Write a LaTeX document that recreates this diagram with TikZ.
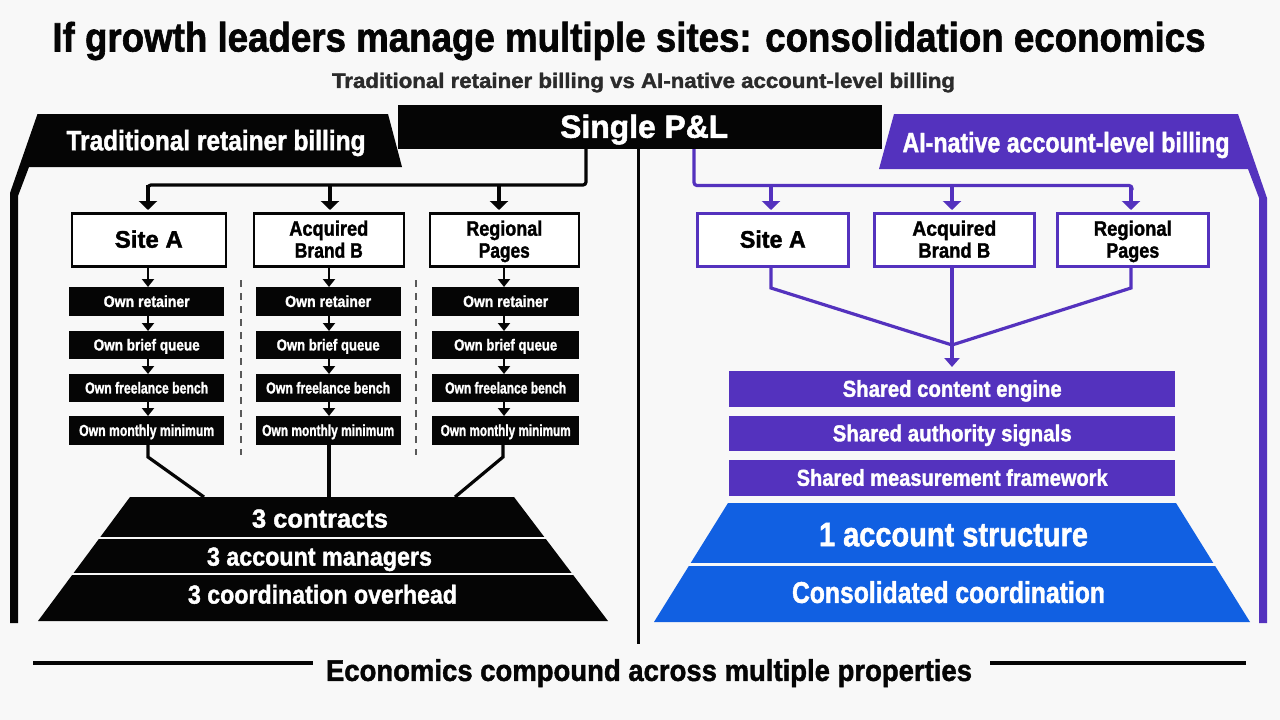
\documentclass[tikz,border=0pt]{standalone}
\usepackage{graphicx}
\usepackage{fontspec}
\setmainfont[BoldFeatures={FakeBold=1.6}]{Liberation Sans}
\usetikzlibrary{arrows.meta}
\definecolor{paper}{HTML}{F8F8F8}
\definecolor{ink}{HTML}{050505}
\definecolor{violet}{HTML}{5432BE}
\definecolor{azure}{HTML}{1160E2}
\newcommand\tw[3]{\raisebox{-.33\dimexpr#2pt\relax}[0pt][0pt]{\resizebox{#1pt}{\height}{\fontsize{#2}{#2}\selectfont\bfseries #3}}}
\tikzset{
  txt/.style={inner sep=0pt,align=center,font=\fontsize{22}{22}\selectfont},
  wtxt/.style={txt,text=white},
  boxk/.style={txt,draw=ink,line width=2.6pt,fill=white,anchor=north west},
  boxv/.style={txt,draw=violet,line width=2.6pt,fill=white,anchor=north west},
  barfill/.style={wtxt,fill=#1,anchor=north west},
  link/.style={line width=3.2pt,draw=#1},
  arr/.style={link=#1,-{Triangle[length=9pt,width=18pt]}},
  arrs/.style={line width=2.6pt,draw=ink,-{Triangle[length=8pt,width=12pt]}},
  divider/.style={draw=gray!70!black,line width=1.2pt,dash pattern=on 7pt off 6pt},
  rule/.style={line width=3.6pt,draw=ink}
}
\newcommand\cbox[7]{\node[#1,minimum width=#4pt,minimum height=#5pt] (#2) at (#3,#6) {#7};}
\begin{document}
\begin{tikzpicture}[x=1pt,y=-1pt]
\useasboundingbox (0,0) rectangle (1280,720);
\fill[paper] (0,0) rectangle (1280,720);
% title
\node[txt,text=ink] (title) at (629,38) {\tw{1153}{41}{If growth leaders manage multiple sites: consolidation economics}};
\node[txt,text=ink!85!white] (subtitle) at (643.5,81) {\tw{623}{21}{Traditional retainer billing vs AI-native account-level billing}};
% headers
\fill[ink] (37.5,114) -- (388,114) -- (402,167) -- (29,167) -- (18,196) -- (18,623) -- (10,623) -- (10,193) -- cycle;
\fill[violet] (894,114) -- (1238,114) -- (1267,198) -- (1267,623) -- (1259,623) -- (1259,198) -- (1248,169) -- (879,169) -- cycle;
\node[wtxt] (hl) at (216,141) {\tw{299}{28}{Traditional retainer billing}};
\node[wtxt] (hr) at (1066,143) {\tw{327}{28}{AI-native account-level billing}};
% centre
\draw[line width=3pt,draw=ink] (638,149) -- (638,644);
\node[barfill=ink,minimum width=484pt,minimum height=44pt] (pl) at (398,105) {\hspace*{8pt}\tw{168}{32}{Single P\&L}};
% left boxes
\cbox{boxk}{la}{70.5}{154}{53}{212}{\tw{68}{24}{Site A}}
\cbox{boxk}{lb}{252.5}{150}{53}{212}{\tw{79}{21}{Acquired}\\\tw{68}{21}{Brand B}}
\cbox{boxk}{lc}{428.5}{149}{53}{212}{\tw{76}{21}{Regional}\\\tw{51}{21}{Pages}}
% left bars
\cbox{barfill=ink}{la1}{69}{155}{29}{287}{\tw{86}{16}{Own retainer}}
\cbox{barfill=ink}{la2}{69}{155}{28}{331}{\tw{106}{16}{Own brief queue}}
\cbox{barfill=ink}{la3}{69}{155}{28}{374}{\tw{123}{16}{Own freelance bench}}
\cbox{barfill=ink}{la4}{69}{155}{29}{416}{\tw{135}{16}{Own monthly minimum}}
\cbox{barfill=ink}{lb1}{255.5}{145}{29}{287}{\tw{86}{16}{Own retainer}}
\cbox{barfill=ink}{lb2}{255.5}{145}{28}{331}{\tw{103}{16}{Own brief queue}}
\cbox{barfill=ink}{lb3}{255.5}{145}{28}{374}{\tw{124}{16}{Own freelance bench}}
\cbox{barfill=ink}{lb4}{255.5}{145}{29}{416}{\tw{132}{16}{Own monthly minimum}}
\cbox{barfill=ink}{lc1}{432}{147}{29}{287}{\tw{85}{16}{Own retainer}}
\cbox{barfill=ink}{lc2}{432}{147}{28}{331}{\tw{103}{16}{Own brief queue}}
\cbox{barfill=ink}{lc3}{432}{147}{28}{374}{\tw{121}{16}{Own freelance bench}}
\cbox{barfill=ink}{lc4}{432}{147}{29}{416}{\tw{130}{16}{Own monthly minimum}}
% left connectors
\coordinate (ltrunk) at (586,149);
\coordinate (lbus) at (586,185);
\coordinate (lbusa) at (148,185);
\coordinate (lbusb) at (330,185);
\coordinate (lbusc) at (499,185);
\draw[link=ink,rounded corners=3pt] (ltrunk) -- (lbus) -- (lbusa) -- (148,190);
\draw[arr=ink] (lbusa) -- (148,210);
\draw[arr=ink] (lbusb) -- (330,210);
\draw[arr=ink] (lbusc) -- (499,210);
\foreach \c/\x in {a/148,b/329,c/504}{
  \draw[arrs] (\x,266) -- (\x,287);
  \draw[arrs] (\x,316) -- (\x,331);
  \draw[arrs] (\x,359) -- (\x,374);
  \draw[arrs] (\x,402) -- (\x,416);
}
\draw[divider] (241,280) -- (241,455);
\draw[divider] (416,280) -- (416,455);
% left pyramid
\fill[ink] (130,497) -- (514,497) -- (608,621) -- (38,621) -- cycle;
\draw[line width=2pt,draw=paper] (90,538) -- (555,538);
\draw[line width=2pt,draw=paper] (62,574) -- (585,574);
\node[wtxt] (p1) at (320,519) {\tw{136}{26}{3 contracts}};
\node[wtxt] (p2) at (319.5,557) {\tw{225}{26}{3 account managers}};
\node[wtxt] (p3) at (322.5,595) {\tw{269}{26}{3 coordination overhead}};
\coordinate (pa) at (204,497);
\coordinate (pb) at (329,497);
\coordinate (pc) at (455,497);
\draw[link=ink] (148,445) -- (148,457) -- (pa);
\draw[link=ink] (329,445) -- (pb);
\draw[link=ink] (503,445) -- (503,457) -- (pc);
% right boxes
\cbox{boxv}{ra}{696}{151}{53}{212}{\tw{66}{24}{Site A}}
\cbox{boxv}{rb}{873}{160}{53}{212}{\tw{84}{21}{Acquired}\\\tw{72}{21}{Brand B}}
\cbox{boxv}{rc}{1056}{151}{53}{212}{\tw{78}{21}{Regional}\\\tw{53}{21}{Pages}}
% right connectors
\coordinate (rtrunk) at (694,149);
\coordinate (rbusa) at (771,185.5);
\coordinate (rbusb) at (952,185.5);
\coordinate (rbusc) at (1131,185.5);
\draw[link=violet,rounded corners=3pt] (rtrunk) -- (694,185.5) -- (1132,185.5) -- (1132,190);
\draw[arr=violet] (rbusa) -- (771,210);
\draw[arr=violet] (rbusb) -- (952,210);
\draw[arr=violet] (rbusc) -- (1131,210);
\coordinate (merge) at (952,345);
\draw[link=violet] (771,266) -- (771,288) -- (merge);
\draw[link=violet] (952,266) -- (merge);
\draw[link=violet] (1131,266) -- (1131,288) -- (merge);
% right bars
\cbox{barfill=violet}{r1}{729}{446}{36}{371}{\tw{219}{23}{Shared content engine}}
\cbox{barfill=violet}{r2}{729}{446}{35}{416}{\tw{239}{23}{Shared authority signals}}
\cbox{barfill=violet}{r3}{729}{446}{36}{460}{\tw{311}{23}{Shared measurement framework}}
\draw[link=violet,-{Triangle[length=9pt,width=15pt]}] (merge) -- (952,367);
% right pyramid
\fill[azure] (728,503) -- (1176,503) -- (1250,622) -- (654,622) -- cycle;
\draw[line width=2.4pt,draw=paper] (680,564.5) -- (1225,564.5);
\node[wtxt] (q1) at (953.5,535) {\tw{269}{34}{1 account structure}};
\node[wtxt] (q2) at (948.5,593) {\tw{313}{30}{Consolidated coordination}};
% footer
\coordinate (fl1) at (33,663);
\coordinate (fl2) at (313,663);
\coordinate (fr1) at (990,663);
\coordinate (fr2) at (1246,663);
\draw[rule] (fl1) -- (fl2);
\draw[rule] (fr1) -- (fr2);
\node[txt,text=ink] (foot) at (649,671) {\tw{646}{30}{Economics compound across multiple properties}};
\end{tikzpicture}
\end{document}
